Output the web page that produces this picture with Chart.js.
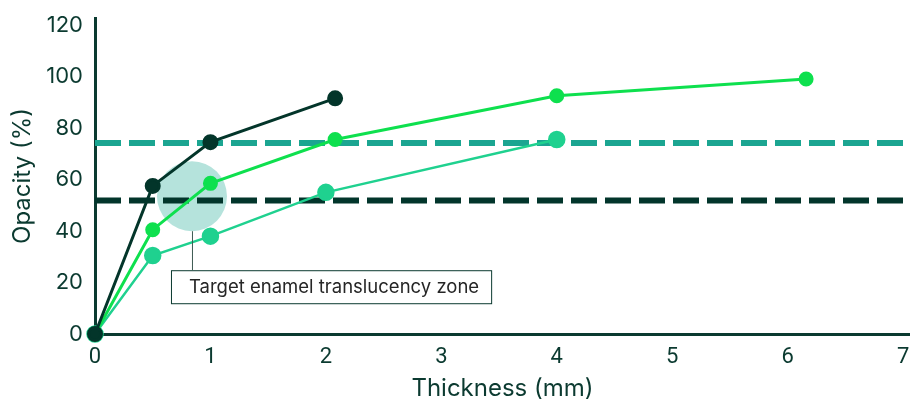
<!DOCTYPE html>
<html>
<head>
<meta charset="utf-8">
<script src="https://cdn.jsdelivr.net/npm/chart.js@4"></script>
<style>
  html, body { margin: 0; padding: 0; background: #fff; }
  #wrap { width: 910px; height: 403px; }
</style>
</head>
<body>
<div id="wrap"><canvas id="opacityChart"></canvas></div>
<script>
// values
const darkX = [0, 0.5, 1.0, 2.08];
const darkY = [0, 57.5, 74.5, 91.5];
const greenX = [0, 0.5, 1.0, 2.08, 4.0, 6.16];
const greenY = [0, 40.5, 58.5, 75.5, 92.5, 99];
const tealX = [0, 0.5, 1.0, 2.0, 4.0];
const tealY = [0, 30.5, 38, 55, 75.5];
const refLevels = [51.8, 74.2];      // dark dashed, teal dashed
const zoneCenter = [0.84, 53.5];     // translucent circle
const zoneLabel = 'Target enamel translucency zone';
const xTicks = [0, 1, 2, 3, 4, 5, 6, 7];
const yTicks = [0, 20, 40, 60, 80, 100, 120];

const ink = '#0b3a30';

function pts(xs, ys) {
    return xs.map((x, i) => ({ x: x, y: ys[i] }));
}

// box + leader line under the circle
const zonePlugin = {
    id: 'zoneLabel',
    afterDatasetsDraw(chart) {
        const ctx = chart.ctx;
        const xs = chart.scales.x, ys = chart.scales.y;
        const cx = xs.getPixelForValue(zoneCenter[0]);
        const cy = ys.getPixelForValue(zoneCenter[1]);
        ctx.save();
        ctx.font = '18.5px Inter, "Noto Sans", sans-serif';
        const w = ctx.measureText(zoneLabel).width + 30;
        const boxLeft = cx - 21, boxTop = cy + 74, boxH = 33;
        ctx.strokeStyle = '#3d5a52';
        ctx.lineWidth = 1;
        ctx.beginPath();
        ctx.moveTo(cx + 0.5, cy + 35);
        ctx.lineTo(cx + 0.5, boxTop);
        ctx.stroke();
        ctx.fillStyle = '#fff';
        ctx.fillRect(boxLeft, boxTop, w, boxH);
        ctx.strokeStyle = ink;
        ctx.strokeRect(boxLeft + 0.5, boxTop + 0.5, w, boxH);
        ctx.fillStyle = '#262626';
        ctx.textBaseline = 'middle';
        ctx.fillText(zoneLabel, boxLeft + 18, boxTop + boxH / 2 + 1);
        ctx.restore();
    }
};

const ctx = document.getElementById('opacityChart').getContext('2d');
new Chart(ctx, {
    type: 'line',
    data: {
        datasets: [
            {
                type: 'bubble',
                data: [{ x: zoneCenter[0], y: zoneCenter[1], r: 35 }],
                backgroundColor: '#b5e3dc',
                borderWidth: 0,
                order: 10
            },
            {
                data: [{ x: 0, y: refLevels[0] }, { x: 7.06, y: refLevels[0] }],
                borderColor: '#02352b',
                borderWidth: 6,
                borderDash: [26, 8],
                pointRadius: 0,
                order: 6
            },
            {
                data: [{ x: 0, y: refLevels[1] }, { x: 7.06, y: refLevels[1] }],
                borderColor: '#1ba591',
                borderWidth: 6,
                borderDash: [26, 8],
                pointRadius: 0,
                order: 5
            },
            {
                data: pts(tealX, tealY),
                borderColor: '#1fd18f',
                backgroundColor: '#1fd18f',
                borderWidth: 2.5,
                pointRadius: 7.5,
                order: 3
            },
            {
                data: pts(greenX, greenY),
                borderColor: '#0ee04e',
                backgroundColor: '#0ee04e',
                borderWidth: 3,
                pointRadius: 6,
                order: 2
            },
            {
                data: pts(darkX, darkY),
                borderColor: '#03352a',
                backgroundColor: '#03352a',
                borderWidth: 3,
                pointRadius: 6.5,
                order: 1
            }
        ]
    },
    options: {
        responsive: true,
        maintainAspectRatio: false,
        animation: false,
        clip: false,
        layout: { autoPadding: false, padding: { top: 18, right: 0, left: 0, bottom: 0 } },
        plugins: {
            legend: { display: false },
            tooltip: { enabled: false }
        },
        scales: {
            x: {
                type: 'linear',
                min: 0,
                max: 7.06,
                afterBuildTicks: (s) => { s.ticks = xTicks.map(v => ({ value: v })); },
                afterFit: (s) => { s.height = 69; s.paddingLeft = 0; s.paddingRight = 0; },
                grid: { display: false, drawTicks: false },
                border: { display: true, color: ink, width: 3 },
                ticks: {
                    color: ink,
                    padding: 10,
                    font: { family: 'Roboto, sans-serif', size: 22 }
                },
                title: {
                    display: true,
                    text: 'Thickness (mm)',
                    color: ink,
                    padding: { top: 0, bottom: 0 },
                    font: { family: 'Inter, sans-serif', size: 24 }
                }
            },
            y: {
                min: 0,
                max: 122.7,
                afterBuildTicks: (s) => { s.ticks = yTicks.map(v => ({ value: v })); },
                afterFit: (s) => { s.width = 95; s.paddingTop = 0; s.paddingBottom = 0; },
                grid: { display: false, drawTicks: false },
                border: { display: true, color: ink, width: 3 },
                ticks: {
                    color: ink,
                    padding: 12,
                    font: { family: 'Inter, sans-serif', size: 22 }
                },
                title: {
                    display: true,
                    text: 'Opacity (%)',
                    color: ink,
                    padding: { top: 8, bottom: 0 },
                    font: { family: 'Inter, sans-serif', size: 24 }
                }
            }
        }
    },
    plugins: [zonePlugin]
});
</script>
</body>
</html>
